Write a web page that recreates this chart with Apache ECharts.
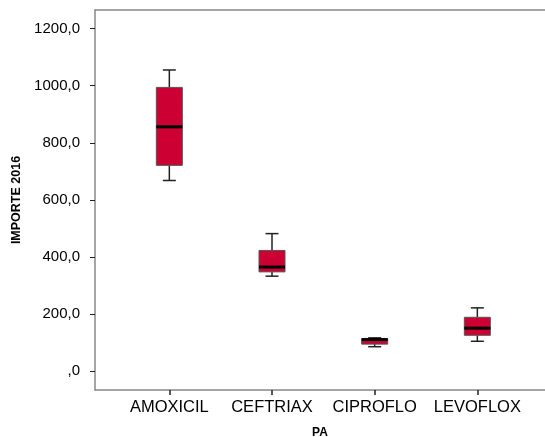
<!DOCTYPE html>
<html>
<head>
<meta charset="utf-8">
<script src="https://cdn.jsdelivr.net/npm/echarts@6/dist/echarts.min.js"></script>
<style>
  html, body { margin: 0; padding: 0; background: #fff; }
  #chart { width: 545px; height: 437px; }
</style>
</head>
<body>
<div id="chart"></div>
<script>
// box plot values
const categories = ['AMOXICIL', 'CEFTRIAX', 'CIPROFLO', 'LEVOFLOX'];
const lowWhisker = [668, 333, 86, 105];
const q1 = [721, 348, 95, 126];
const median = [856, 365, 111, 151];
const q3 = [994, 423, 114, 189];
const highWhisker = [1055, 482, 117, 222];
const yTicks = [0, 200, 400, 600, 800, 1000, 1200];

const boxData = categories.map((c, i) => [i, lowWhisker[i], q1[i], median[i], q3[i], highWhisker[i]]);

const myChart = echarts.init(document.getElementById('chart'));

function renderBox(params, api) {
    const x = api.value(0);
    const pLow = api.coord([x, api.value(1)]);
    const pQ1 = api.coord([x, api.value(2)]);
    const pMed = api.coord([x, api.value(3)]);
    const pQ3 = api.coord([x, api.value(4)]);
    const pHigh = api.coord([x, api.value(5)]);
    const cx = pMed[0];
    const half = 13;
    const cap = 6.5;
    const lineStyle = { stroke: '#222', lineWidth: 1.5 };
    return {
        type: 'group',
        children: [
            { type: 'line', shape: { x1: cx, y1: pHigh[1], x2: cx, y2: pQ3[1] }, style: lineStyle },
            { type: 'line', shape: { x1: cx, y1: pLow[1], x2: cx, y2: pQ1[1] }, style: lineStyle },
            { type: 'line', shape: { x1: cx - cap, y1: pHigh[1], x2: cx + cap, y2: pHigh[1] }, style: lineStyle },
            { type: 'line', shape: { x1: cx - cap, y1: pLow[1], x2: cx + cap, y2: pLow[1] }, style: lineStyle },
            {
                type: 'rect',
                shape: { x: cx - half, y: pQ3[1], width: half * 2, height: pQ1[1] - pQ3[1] },
                style: { fill: '#CC0033', stroke: '#555', lineWidth: 1 }
            },
            { type: 'line', shape: { x1: cx - half, y1: pMed[1], x2: cx + half, y2: pMed[1] }, style: { stroke: '#000', lineWidth: 3 } }
        ]
    };
}

const option = {
    animation: false,
    grid: {
        left: 95,
        right: 0,
        top: 10,
        bottom: 47,
        containLabel: false,
        outerBoundsMode: 'none'
    },
    xAxis: [{
        type: 'value',
        min: -0.724,
        max: 3.659,
        name: 'PA',
        nameLocation: 'middle',
        nameGap: 37,
        nameTextStyle: { fontFamily: 'Liberation Sans', fontSize: 12, fontWeight: 'bold', color: '#000' },
        splitLine: { show: false },
        axisLine: { show: true, onZero: false, lineStyle: { color: '#888', width: 1.5 } },
        axisTick: { show: true, length: 5, customValues: [0, 1, 2, 3], lineStyle: { color: '#222', width: 1.5 } },
        axisLabel: {
            customValues: [0, 1, 2, 3],
            margin: 9,
            fontFamily: 'Liberation Sans',
            fontSize: 16.5,
            color: '#000',
            formatter: v => categories[Math.round(v)]
        }
    }, {
        // top frame line only
        type: 'value',
        position: 'top',
        min: -0.724,
        max: 3.659,
        splitLine: { show: false },
        axisLine: { show: true, onZero: false, lineStyle: { color: '#888', width: 1.5 } },
        axisTick: { show: false },
        axisLabel: { show: false }
    }],
    yAxis: {
        type: 'value',
        min: -65.6,
        max: 1265,
        name: 'IMPORTE 2016',
        nameLocation: 'middle',
        nameGap: 66,
        nameTextStyle: { fontFamily: 'Liberation Sans', fontSize: 12.5, fontWeight: 'bold', color: '#000' },
        splitLine: { show: false },
        axisLine: { show: true, onZero: false, lineStyle: { color: '#888', width: 1.5 } },
        axisTick: { show: true, length: 5, customValues: yTicks, lineStyle: { color: '#222', width: 1 } },
        axisLabel: {
            customValues: yTicks,
            margin: 15,
            fontFamily: 'Liberation Sans',
            fontSize: 15,
            color: '#000',
            formatter: v => (v === 0 ? ',0' : v + ',0')
        }
    },
    series: [{
        type: 'custom',
        renderItem: renderBox,
        encode: { x: 0, y: [1, 2, 3, 4, 5] },
        data: boxData
    }]
};

myChart.setOption(option);
</script>
</body>
</html>
